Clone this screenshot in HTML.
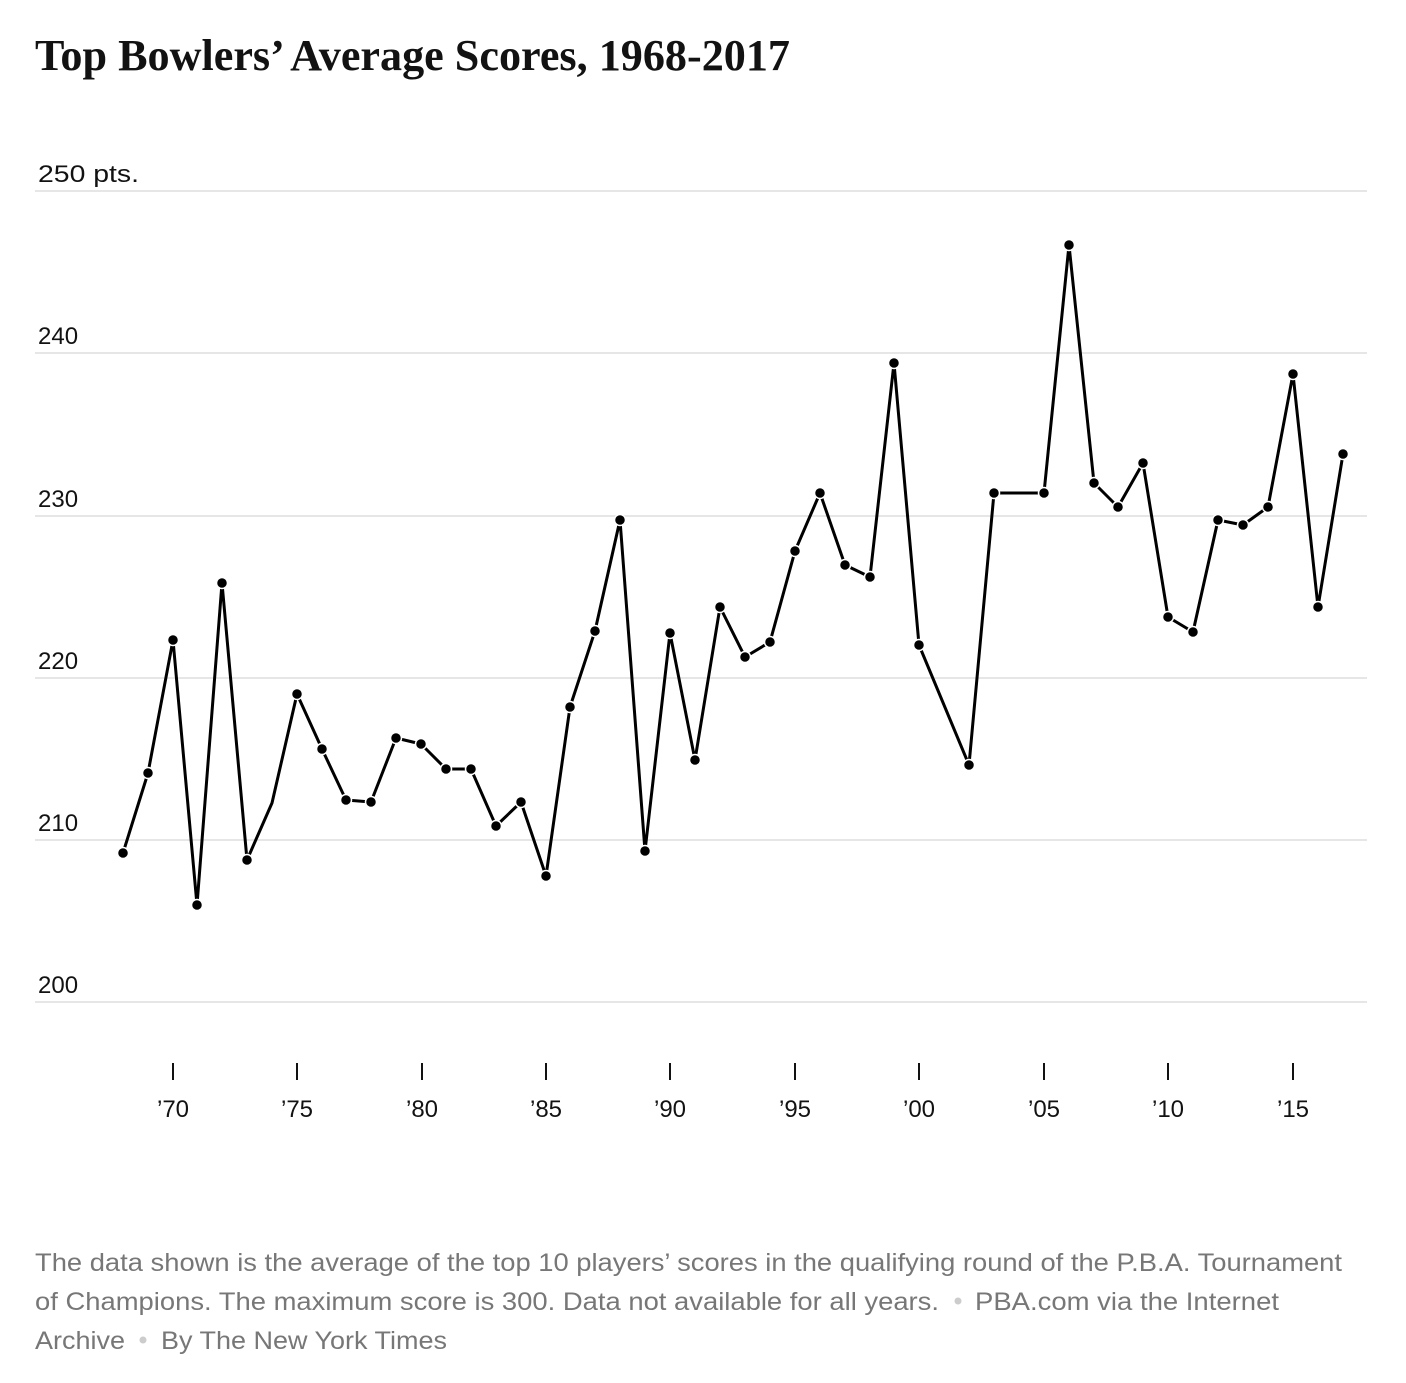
<!DOCTYPE html>
<html><head><meta charset="utf-8"><style>
html,body{margin:0;padding:0;background:#fff;}
</style></head><body>
<svg width="1406" height="1378" viewBox="0 0 1406 1378" xmlns="http://www.w3.org/2000/svg">
<text x="35" y="70" font-family="Liberation Serif, serif" font-weight="bold" font-size="44" fill="#121212" textLength="755" lengthAdjust="spacingAndGlyphs">Top Bowlers’ Average Scores, 1968-2017</text>
<g stroke="#e6e6e6" stroke-width="2">
<line x1="35" x2="1367" y1="191" y2="191"/>
<line x1="35" x2="1367" y1="353" y2="353"/>
<line x1="35" x2="1367" y1="516" y2="516"/>
<line x1="35" x2="1367" y1="678" y2="678"/>
<line x1="35" x2="1367" y1="840" y2="840"/>
<line x1="35" x2="1367" y1="1002" y2="1002"/>
</g>
<g font-family="Liberation Sans, sans-serif" font-size="24" fill="#121212">
<text x="38" y="182" textLength="101" lengthAdjust="spacingAndGlyphs">250 pts.</text>
<text x="38" y="344">240</text>
<text x="38" y="507">230</text>
<text x="38" y="669">220</text>
<text x="38" y="831">210</text>
<text x="38" y="993">200</text>
</g>
<g stroke="#121212" stroke-width="2">
<line x1="173" x2="173" y1="1063" y2="1080"/>
<line x1="297" x2="297" y1="1063" y2="1080"/>
<line x1="422" x2="422" y1="1063" y2="1080"/>
<line x1="546" x2="546" y1="1063" y2="1080"/>
<line x1="670" x2="670" y1="1063" y2="1080"/>
<line x1="795" x2="795" y1="1063" y2="1080"/>
<line x1="919" x2="919" y1="1063" y2="1080"/>
<line x1="1044" x2="1044" y1="1063" y2="1080"/>
<line x1="1168" x2="1168" y1="1063" y2="1080"/>
<line x1="1293" x2="1293" y1="1063" y2="1080"/>
</g>
<g font-family="Liberation Sans, sans-serif" font-size="24" fill="#121212" text-anchor="middle">
<text x="173" y="1117">’70</text><text x="297" y="1117">’75</text><text x="422" y="1117">’80</text><text x="546" y="1117">’85</text><text x="670" y="1117">’90</text><text x="795" y="1117">’95</text><text x="919" y="1117">’00</text><text x="1044" y="1117">’05</text><text x="1168" y="1117">’10</text><text x="1293" y="1117">’15</text>
</g>
<polyline fill="none" stroke="#000" stroke-width="3" stroke-linejoin="round" points="123,853 148,773 173,640 197,905 222,583 247,860 272,803 297,694 322,749 346,800 371,802 396,738 421,744 446,769 471,769 496,826 521,802 546,876 570,707 595,631 620,520 645,851 670,633 695,760 720,607 745,657 770,642 795,551 820,493 845,565 870,577 894,363 919,645 969,765 994,493 1044,493 1069,245 1094,483 1118,507 1143,463 1168,617 1193,632 1218,520 1243,525 1268,507 1293,374 1318,607 1343,454"/>
<g fill="#000" stroke="#fff" stroke-width="1.5">
<circle cx="123" cy="853" r="5.5"/><circle cx="148" cy="773" r="5.5"/><circle cx="173" cy="640" r="5.5"/><circle cx="197" cy="905" r="5.5"/><circle cx="222" cy="583" r="5.5"/><circle cx="247" cy="860" r="5.5"/><circle cx="297" cy="694" r="5.5"/><circle cx="322" cy="749" r="5.5"/><circle cx="346" cy="800" r="5.5"/><circle cx="371" cy="802" r="5.5"/><circle cx="396" cy="738" r="5.5"/><circle cx="421" cy="744" r="5.5"/><circle cx="446" cy="769" r="5.5"/><circle cx="471" cy="769" r="5.5"/><circle cx="496" cy="826" r="5.5"/><circle cx="521" cy="802" r="5.5"/><circle cx="546" cy="876" r="5.5"/><circle cx="570" cy="707" r="5.5"/><circle cx="595" cy="631" r="5.5"/><circle cx="620" cy="520" r="5.5"/><circle cx="645" cy="851" r="5.5"/><circle cx="670" cy="633" r="5.5"/><circle cx="695" cy="760" r="5.5"/><circle cx="720" cy="607" r="5.5"/><circle cx="745" cy="657" r="5.5"/><circle cx="770" cy="642" r="5.5"/><circle cx="795" cy="551" r="5.5"/><circle cx="820" cy="493" r="5.5"/><circle cx="845" cy="565" r="5.5"/><circle cx="870" cy="577" r="5.5"/><circle cx="894" cy="363" r="5.5"/><circle cx="919" cy="645" r="5.5"/><circle cx="969" cy="765" r="5.5"/><circle cx="994" cy="493" r="5.5"/><circle cx="1044" cy="493" r="5.5"/><circle cx="1069" cy="245" r="5.5"/><circle cx="1094" cy="483" r="5.5"/><circle cx="1118" cy="507" r="5.5"/><circle cx="1143" cy="463" r="5.5"/><circle cx="1168" cy="617" r="5.5"/><circle cx="1193" cy="632" r="5.5"/><circle cx="1218" cy="520" r="5.5"/><circle cx="1243" cy="525" r="5.5"/><circle cx="1268" cy="507" r="5.5"/><circle cx="1293" cy="374" r="5.5"/><circle cx="1318" cy="607" r="5.5"/><circle cx="1343" cy="454" r="5.5"/>
</g>
<g font-family="Liberation Sans, sans-serif" font-size="25" fill="#777">
<text x="35" y="1271" textLength="1307" lengthAdjust="spacingAndGlyphs">The data shown is the average of the top 10 players’ scores in the qualifying round of the P.B.A. Tournament</text>
<text x="35" y="1310" textLength="904" lengthAdjust="spacingAndGlyphs">of Champions. The maximum score is 300. Data not available for all years.</text>
<circle cx="958" cy="1301" r="3.5" fill="#ccc"/>
<text x="975" y="1310" textLength="304" lengthAdjust="spacingAndGlyphs">PBA.com via the Internet</text>
<text x="35" y="1349" textLength="90" lengthAdjust="spacingAndGlyphs">Archive</text>
<circle cx="143" cy="1340" r="3.5" fill="#ccc"/>
<text x="161" y="1349" textLength="286" lengthAdjust="spacingAndGlyphs">By The New York Times</text>
</g>
</svg>
</body></html>
